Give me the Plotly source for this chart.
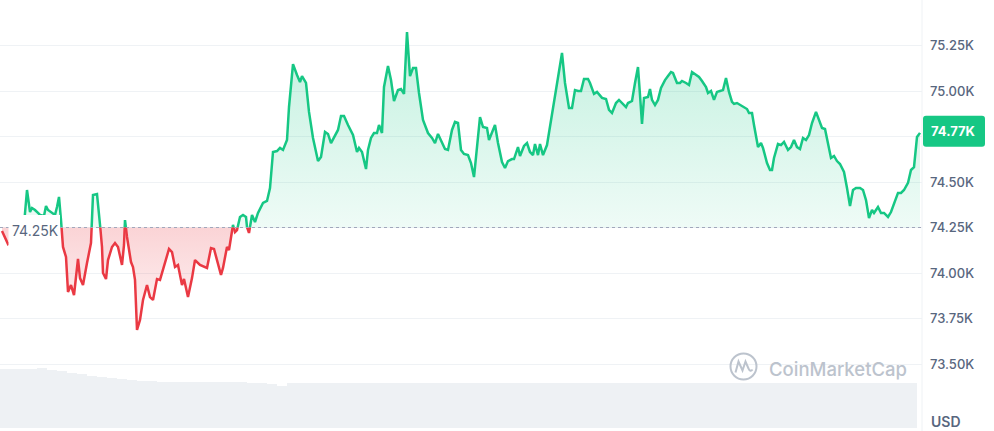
import numpy as np
import plotly.graph_objects as go

# ---------------- data ----------------
elapsed_min = [
    0, 4.5, 9, 18, 27, 33, 37.5, 42, 45, 49.5, 54, 57, 63, 66, 69, 75, 79.5, 82.5, 85.5, 88.5,
    91.5, 96, 99, 103.5, 108, 111, 114, 117, 121.5, 127.5, 133.5, 136.5, 142.5, 145.5, 150, 151.5, 156, 159, 165, 169.5,
    174, 180, 183, 184.5, 187.5, 193.5, 196.5, 199.5, 202.5, 207, 211.5, 217.5, 222, 226.5, 232.5, 237, 244.5, 250.5, 255, 259.5,
    264, 270, 273, 279, 285, 289.5, 297, 307.5, 313.5, 318, 322.5, 328.5, 331.5, 337.5, 340.5, 346.5, 349.5, 352.5, 357, 361.5,
    366, 367.5, 370.5, 375, 379.5, 384, 391.5, 397.5, 402, 406.5, 412.5, 417, 421.5, 427.5, 430.5, 436.5, 442.5, 447, 450, 456,
    460.5, 466.5, 474, 478.5, 484.5, 489, 493.5, 498, 504, 508.5, 513, 519, 526.5, 532.5, 535.5, 540, 546, 549, 553.5, 558,
    562.5, 565.5, 570, 573, 579, 583.5, 588, 594, 598.5, 603, 607.5, 612, 616.5, 621, 625.5, 631.5, 639, 645, 649.5, 654,
    660, 664.5, 669, 675, 679.5, 684, 688.5, 693, 699, 703.5, 708, 712.5, 717, 721.5, 727.5, 730.5, 735, 739.5, 744, 750,
    754.5, 759, 765, 768, 774, 777, 783, 787.5, 792, 796.5, 799.5, 804, 807, 811.5, 817.5, 823.5, 829.5, 834, 840, 844.5,
    850.5, 855, 859.5, 864, 868.5, 873, 879, 882, 888, 892.5, 900, 906, 910.5, 915, 921, 925.5, 930, 936, 939, 945,
    949.5, 954, 957, 960, 963, 969, 972, 975, 979.5, 984, 988.5, 994.5, 999, 1003.5, 1006.5, 1012.5, 1017, 1020, 1026, 1030.5,
    1035, 1041, 1045.5, 1050, 1056, 1059, 1063.5, 1068, 1072.5, 1077, 1081.5, 1086, 1090.5, 1095, 1098, 1102.5, 1107, 1113, 1117.5, 1120.5,
    1125, 1128, 1134, 1138.5, 1141.5, 1147.5, 1152, 1155, 1158, 1164, 1168.5, 1173, 1179, 1183.5, 1188, 1192.5, 1197, 1201.5, 1206, 1210.5,
    1215, 1221, 1225.5, 1230, 1234.5, 1239, 1243.5, 1248, 1252.5, 1257, 1263, 1267.5, 1272, 1276.5, 1281, 1287, 1291.5, 1296, 1300.5, 1305,
    1308, 1314, 1318.5, 1323, 1329, 1333.5, 1338, 1344, 1348.5, 1353, 1359, 1363.5, 1368, 1372.5, 1377,
]
price_usd = [
    74231, 74192, 74159, 74181, 74220, 74264, 74456, 74335, 74357, 74346, 74330, 74319, 74313, 74368, 74346, 74330, 74319, 74363, 74418, 74291,
    74143, 74088, 73896, 73934, 73879, 73978, 74077, 73972, 73934, 74055, 74165, 74429, 74434, 74330, 74143, 74000, 73967, 74071, 74143, 74165,
    74143, 74044, 74154, 74291, 74198, 74060, 74033, 73962, 73687, 73742, 73852, 73934, 73868, 73852, 73967, 73962, 74055, 74132, 74115, 74033,
    74044, 73934, 73967, 73868, 73972, 74071, 74044, 74028, 74137, 74132, 74071, 73989, 74028, 74143, 74126, 74264, 74225, 74236, 74308, 74319,
    74308, 74253, 74220, 74319, 74280, 74330, 74385, 74396, 74467, 74665, 74670, 74687, 74676, 74731, 74912, 75148, 75088, 75049, 75082, 75044,
    74885, 74742, 74615, 74637, 74775, 74764, 74714, 74747, 74786, 74863, 74863, 74813, 74758, 74665, 74687, 74665, 74571, 74676, 74742, 74769,
    74769, 74813, 74769, 75022, 75137, 75060, 74945, 75005, 75011, 74984, 75324, 75082, 75126, 75126, 74989, 74841, 74769, 74742, 74714, 74764,
    74720, 74681, 74676, 74786, 74830, 74824, 74676, 74654, 74648, 74604, 74527, 74676, 74857, 74802, 74797, 74731, 74775, 74813, 74714, 74610,
    74577, 74615, 74626, 74626, 74692, 74643, 74698, 74714, 74665, 74648, 74709, 74648, 74709, 74648, 74703, 74841, 74967, 75060, 75209, 75044,
    74907, 74907, 75005, 75000, 75000, 75066, 75066, 75044, 74984, 74995, 74962, 74956, 74896, 74879, 74934, 74951, 74934, 74912, 74934, 74945,
    75044, 75132, 74978, 74819, 74962, 74967, 75011, 74951, 74923, 74951, 75017, 75060, 75082, 75104, 75099, 75044, 75044, 75055, 75044, 75033,
    75104, 75088, 75077, 75055, 75022, 74989, 75000, 74951, 74995, 75000, 75005, 75071, 74995, 74940, 74929, 74934, 74923, 74912, 74901, 74879,
    74879, 74813, 74692, 74714, 74687, 74604, 74566, 74566, 74632, 74709, 74703, 74720, 74676, 74692, 74731, 74692, 74681, 74742, 74731, 74758,
    74824, 74885, 74841, 74797, 74791, 74720, 74632, 74643, 74615, 74599, 74555, 74467, 74368, 74456, 74467, 74467, 74456, 74401, 74302, 74346,
    74330, 74363, 74330, 74330, 74308, 74335, 74385, 74440, 74440, 74456, 74495, 74566, 74582, 74747, 74770,
]
baseline_usd = 74250

# 24h volume bars (billions USD), one bar every 15 minutes
volume_min = list(range(0, 1366, 15))
volume_busd = [
    47.0, 47.0, 47.0, 47.2, 47.8, 46.8, 45.6, 44.4, 43.2, 42.0,
    40.9, 40.0, 39.2, 38.5, 38.0, 37.6, 37.2, 37.0, 37.0, 37.0,
    37.0, 36.9, 36.8, 36.6, 36.5, 36.3, 36.2, 35.2, 33.8, 35.8,
    35.8, 35.8, 35.8, 35.8, 35.8, 35.8, 35.8, 35.8, 35.8, 35.8,
    35.8, 35.8, 35.8, 35.8, 35.8, 35.8, 35.8, 35.8, 35.8, 35.8,
    35.8, 35.8, 35.8, 35.8, 35.8, 35.8, 35.8, 35.8, 35.8, 35.8,
    35.8, 35.8, 35.8, 35.8, 35.8, 35.8, 35.8, 35.8, 35.8, 35.8,
    35.8, 35.8, 35.8, 35.8, 35.8, 35.8, 35.8, 35.8, 35.8, 35.8,
    35.8, 35.8, 35.8, 35.8, 35.8, 35.8, 35.8, 35.8, 35.8, 35.8,
    35.8, 35.8,
]

price_ticks = [73500, 73750, 74000, 74250, 74500, 74750, 75000, 75250]
# the 74.75K label sits under the last-price tag in the reference, so it is blank
price_tick_text = ["73.50K", "73.75K", "74.00K", "74.25K", "74.50K", "", "75.00K", "75.25K"]

# ---------------- styling ----------------
GREEN = "#16c784"
RED = "#ea3943"
GREY = "#58667e"
GRID = "#eff2f5"
FONT = "Inter"

W, H = 994, 431
PLOT_W = 922
Y_RANGE = [73131.9, 75500.0]
X_RANGE = [-3, 1380]

# ---------------- split the line at the baseline ----------------
t = np.array(elapsed_min, float)
p = np.array(price_usd, float)
T, P = [t[0]], [p[0]]
for i in range(1, len(p)):
    a, b = p[i - 1] - baseline_usd, p[i] - baseline_usd
    if a * b < 0:
        T.append(t[i - 1] + (t[i] - t[i - 1]) * a / (a - b))
        P.append(baseline_usd)
    T.append(t[i])
    P.append(p[i])
T = np.array(T)
P = np.array(P)
up_line = np.where(P >= baseline_usd, P, np.nan)
dn_line = np.where(P <= baseline_usd, P, np.nan)
up_fill = np.maximum(P, baseline_usd)
dn_fill = np.minimum(P, baseline_usd)
base_arr = np.full_like(P, baseline_usd)

fig = go.Figure()

# volume (own hidden axis, bars sit at the bottom 60px)
vol_per_px = 0.8
fig.add_trace(go.Bar(x=volume_min, y=volume_busd, yaxis="y2", width=14.2,
                     marker=dict(color="#eef1f4", line=dict(width=0)), hoverinfo="skip"))

fig.add_trace(go.Scatter(x=T, y=base_arr, mode="lines", line=dict(width=0), hoverinfo="skip"))
fig.add_trace(go.Scatter(
    x=T, y=up_fill, mode="lines", line=dict(width=0), fill="tonexty",
    fillgradient=dict(type="vertical", start=baseline_usd, stop=float(p.max()),
                      colorscale=[[0, "rgba(22,199,132,0.07)"], [1, "rgba(22,199,132,0.26)"]]),
    hoverinfo="skip"))
fig.add_trace(go.Scatter(x=T, y=base_arr, mode="lines", line=dict(width=0), hoverinfo="skip"))
fig.add_trace(go.Scatter(
    x=T, y=dn_fill, mode="lines", line=dict(width=0), fill="tonexty",
    fillgradient=dict(type="vertical", start=float(p.min()), stop=baseline_usd,
                      colorscale=[[0, "rgba(234,57,67,0.05)"], [1, "rgba(234,57,67,0.22)"]]),
    hoverinfo="skip"))
fig.add_trace(go.Scatter(x=T, y=up_line, mode="lines", connectgaps=False,
                         line=dict(color=GREEN, width=2.5), hoverinfo="skip"))
fig.add_trace(go.Scatter(x=T, y=dn_line, mode="lines", connectgaps=False,
                         line=dict(color=RED, width=2.5), hoverinfo="skip"))

def paper_y(v):
    return (v - Y_RANGE[0]) / (Y_RANGE[1] - Y_RANGE[0])

last = price_usd[-1]
shapes = [
    # dotted baseline
    dict(type="line", xref="paper", yref="y", x0=0, x1=1, y0=baseline_usd, y1=baseline_usd,
         line=dict(color="#a1a7bb", width=1, dash="dot"), layer="above"),
    # separator between plot and the price scale
    dict(type="line", xref="paper", yref="paper", x0=1, x1=1, y0=0, y1=1,
         line=dict(color=GRID, width=1)),
    # white box behind the baseline label
    dict(type="rect", xref="paper", yref="paper", x0=8.5 / PLOT_W, x1=60 / PLOT_W,
         y0=1 - 246 / H, y1=1 - 215 / H, fillcolor="white", line=dict(width=0), layer="above"),
    # last-price tag
    dict(type="path", xref="paper", yref="paper", xsizemode="pixel", ysizemode="pixel",
         xanchor=1, yanchor=paper_y(last),
         path="M 4,-14 L 60,-14 Q 63,-14 63,-11 L 63,14 Q 63,17 60,17 L 4,17 Q 1,17 1,14 L 1,-11 Q 1,-14 4,-14 Z",
         fillcolor=GREEN, line=dict(width=0)),
    # watermark logo
    dict(type="circle", xref="paper", yref="paper", xsizemode="pixel", ysizemode="pixel",
         xanchor=743.5 / PLOT_W, yanchor=1 - 366.5 / H, x0=-13, x1=13, y0=-13, y1=13,
         line=dict(color="#bcc3cd", width=2)),
    dict(type="path", xref="paper", yref="paper", xsizemode="pixel", ysizemode="pixel",
         xanchor=743.5 / PLOT_W, yanchor=1 - 366.5 / H,
         path="M -8,-6 L -5,5 L -1,-4 L 2,5 L 5,-2 Q 7,-6 9,-3",
         line=dict(color="#bcc3cd", width=2)),
]

annotations = [
    dict(xref="paper", yref="y", x=10 / PLOT_W, y=baseline_usd, yshift=-3, xanchor="left", yanchor="middle",
         text=f"{baseline_usd / 1000:.2f}K", showarrow=False, font=dict(family=FONT, size=14, color=GREY)),
    dict(xref="paper", yref="paper", x=(922 + 985) / 2 / PLOT_W, y=paper_y(last), yshift=1.5,
         xanchor="center", yanchor="middle", text=f"{last / 1000:.2f}K", showarrow=False,
         font=dict(family=FONT, size=13, color="white", weight=700)),
    dict(xref="paper", yref="paper", x=929 / PLOT_W, y=1 - 421 / H, xanchor="left", yanchor="middle",
         text="USD", showarrow=False, font=dict(family=FONT, size=14, color=GREY, weight=600)),
    dict(xref="paper", yref="paper", x=767 / PLOT_W, y=1 - 369 / H, xanchor="left", yanchor="middle",
         text="CoinMarketCap", showarrow=False, font=dict(family=FONT, size=18.5, color="#bcc3cd", weight=500)),
]

fig.update_layout(
    width=W, height=H,
    margin=dict(l=0, r=W - PLOT_W, t=0, b=0),
    paper_bgcolor="white", plot_bgcolor="white",
    showlegend=False, hovermode=False, bargap=0,
    xaxis=dict(range=X_RANGE, visible=False, fixedrange=True),
    yaxis=dict(range=Y_RANGE, side="right", tickvals=price_ticks, ticktext=price_tick_text,
               showgrid=True, gridcolor=GRID, gridwidth=1, zeroline=False, showline=False,
               ticks="", ticklabelstandoff=7, fixedrange=True,
               tickfont=dict(family=FONT, size=13, color=GREY, weight=500)),
    yaxis2=dict(overlaying="y", visible=False, fixedrange=True,
                range=[-3 * vol_per_px, -3 * vol_per_px + H * vol_per_px]),
    shapes=shapes,
    annotations=annotations,
)

fig.write_html(
    "out.html",
    config={"displayModeBar": False, "staticPlot": True},
    post_script="document.body.style.margin='0';document.body.style.padding='0';"
                "document.body.style.overflow='hidden';",
)
